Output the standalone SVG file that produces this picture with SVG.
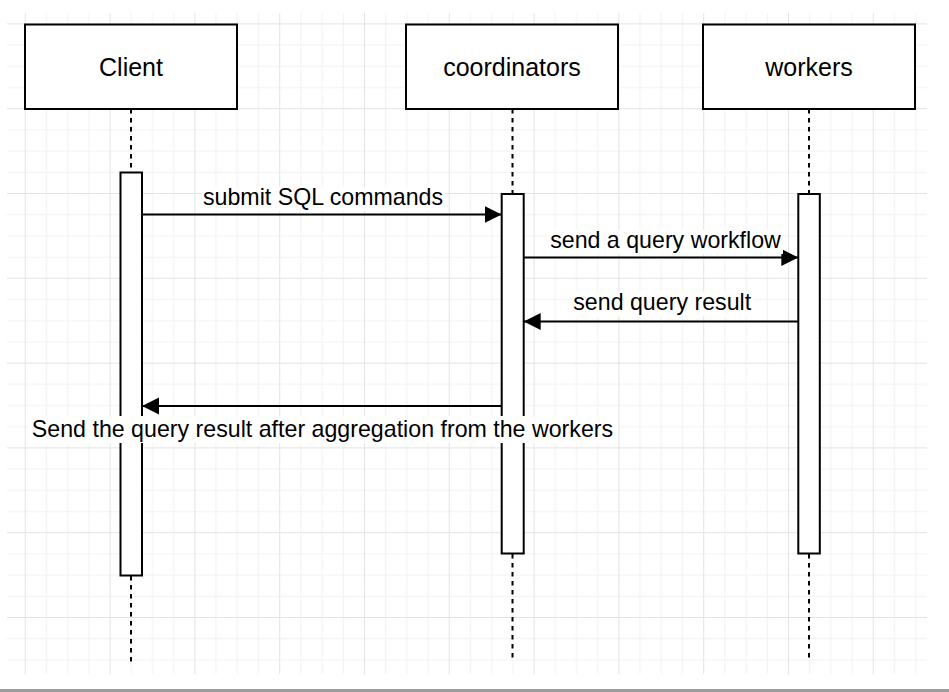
<svg xmlns="http://www.w3.org/2000/svg" width="949" height="692" viewBox="0 0 949 692">
  <defs>
    <pattern id="grid" patternUnits="userSpaceOnUse" x="24.8" y="23.4" width="84.8" height="84.8">
      <rect x="21.2" y="0" width="1" height="84.8" fill="#f1f1f1"/>
      <rect x="42.4" y="0" width="1" height="84.8" fill="#f1f1f1"/>
      <rect x="63.6" y="0" width="1" height="84.8" fill="#f1f1f1"/>
      <rect x="0" y="21.2" width="84.8" height="1" fill="#f1f1f1"/>
      <rect x="0" y="42.4" width="84.8" height="1" fill="#f1f1f1"/>
      <rect x="0" y="63.6" width="84.8" height="1" fill="#f1f1f1"/>
      <rect x="0" y="0" width="1" height="84.8" fill="#e3e3e3"/>
      <rect x="0" y="0" width="84.8" height="1" fill="#e3e3e3"/>
    </pattern>
    <marker id="arrow" markerUnits="userSpaceOnUse" markerWidth="18" markerHeight="18" refX="17" refY="8.5" orient="auto">
      <path d="M0,0 L17,8.5 L0,17 Z" fill="#000"/>
    </marker>
  </defs>
  <style>
    .box { fill: #fff; stroke: #000; stroke-width: 2; }
    .bar { fill: #fff; stroke: #000; stroke-width: 2; }
    .life { stroke: #000; stroke-width: 2; stroke-dasharray: 4.5 4.5; fill: none; }
    .msg { stroke: #000; stroke-width: 2; fill: none; marker-end: url(#arrow); }
    .title { font-family: "Liberation Sans", Arial, sans-serif; font-size: 25px; fill: #000; text-anchor: middle; }
    .lbl { font-family: "Liberation Sans", Arial, sans-serif; font-size: 23.2px; fill: #000; text-anchor: middle; }
    .lblbg { fill: #fff; }
  </style>
  <rect x="0" y="0" width="949" height="692" fill="#fff"/>
  <rect x="7" y="13" width="920" height="661" fill="url(#grid)"/>
  <rect x="0" y="689" width="949" height="3" fill="#9c9c9c"/>

  <g id="lifelines">
    <line class="life" x1="131" y1="109" x2="131" y2="172"/>
    <line class="life" x1="131" y1="576" x2="131" y2="662"/>
    <line class="life" x1="512.5" y1="109" x2="512.5" y2="194"/>
    <line class="life" x1="512.5" y1="554" x2="512.5" y2="662"/>
    <line class="life" x1="809" y1="109" x2="809" y2="194"/>
    <line class="life" x1="809" y1="554" x2="809" y2="662"/>
  </g>

  <g id="client">
    <rect class="box" x="25" y="24.5" width="212" height="84.5"/>
    <text class="title" x="131" y="75.5">Client</text>
    <rect class="bar" x="120.5" y="172.5" width="21.5" height="403"/>
  </g>
  <g id="coordinators">
    <rect class="box" x="406" y="24.5" width="212" height="84.5"/>
    <text class="title" x="512" y="75.5">coordinators</text>
    <rect class="bar" x="501.7" y="194" width="22" height="359.5"/>
  </g>
  <g id="workers">
    <rect class="box" x="703" y="24.5" width="212" height="84.5"/>
    <text class="title" x="809" y="75.5">workers</text>
    <rect class="bar" x="798.3" y="194" width="21.5" height="359.5"/>
  </g>

  <g id="connectors">
    <line class="msg" x1="142" y1="214.5" x2="501.7" y2="214.5"/>
    <rect class="lblbg" x="201" y="187" width="244" height="24"/>
    <text class="lbl" x="323" y="205">submit SQL commands</text>

    <line class="msg" x1="523.7" y1="257.5" x2="798.3" y2="257.5"/>
    <rect class="lblbg" x="548" y="230" width="235" height="24"/>
    <text class="lbl" x="665.5" y="247.7">send a query workflow</text>

    <line class="msg" x1="798.3" y1="321.5" x2="523.7" y2="321.5"/>
    <rect class="lblbg" x="571" y="292" width="183" height="24"/>
    <text class="lbl" x="662.2" y="310">send query result</text>

    <line class="msg" x1="501.7" y1="406" x2="142" y2="406"/>
    <rect class="lblbg" x="28" y="416" width="590" height="27"/>
    <text class="lbl" x="322.5" y="437.3">Send the query result after aggregation from the workers</text>
  </g>
</svg>
